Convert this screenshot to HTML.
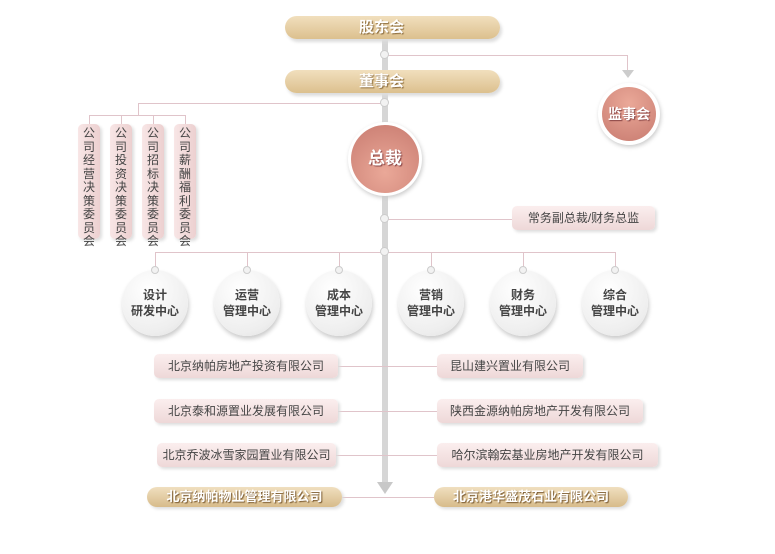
<!DOCTYPE html>
<html><head><meta charset="utf-8"><style>
body{margin:0;width:775px;height:554px;background:#fff;position:relative;overflow:hidden;font-family:"Liberation Sans","Noto Sans CJK SC",sans-serif;}
div{position:absolute;box-sizing:border-box}
.pill{height:23px;border-radius:12px;background:linear-gradient(#f1dfbd,#dcc08e);box-shadow:2px 3px 3px #ddd;color:#fff;font-size:15px;text-align:center;line-height:23px;text-shadow:1px 1px 1px #8a6a3a;font-weight:bold;padding-right:22px}
.vbox{width:22px;height:115px;border-radius:5px;background:linear-gradient(90deg,#f8e6e6,#ecd0d0);box-shadow:2px 2px 3px #ddd;font-size:12px;color:#444;line-height:13.5px;text-align:center;padding-top:3px}
.ln{background:#e0c4ca}
.gl{background:#d6d6d6}
.dot{width:9px;height:9px;border-radius:50%;background:#f2f2f2;border:1px solid #ccc}
.c{width:66px;height:66px;border-radius:50%;background:radial-gradient(circle at 40% 30%,#fff,#eee 70%,#ddd);box-shadow:1px 3px 4px #ccc;text-align:center;font-size:12px;color:#444;font-weight:bold;line-height:16px;padding-top:17px}
.box{height:24px;border-radius:5px;background:linear-gradient(#fbeeee,#eed8d8);box-shadow:2px 2px 3px #ddd;font-size:12px;color:#444;line-height:24px;text-align:center}
.gold{height:20px;border-radius:10px;background:linear-gradient(#f0dfbf,#d7bb8a);box-shadow:2px 2px 3px #ddd;font-size:13px;color:#fff;line-height:20px;text-align:center;text-shadow:1px 1px 1px #7a5a30;font-weight:bold}
</style></head><body>
<div class="gl" style="left:382px;top:38px;width:6px;height:447px"></div>
<div style="left:377px;top:482px;width:0;height:0;border-left:8px solid transparent;border-right:8px solid transparent;border-top:12px solid #c8c8c8"></div>
<div class="pill" style="left:285px;top:16px;width:215px">股东会</div>
<div class="pill" style="left:285px;top:70px;width:215px">董事会</div>
<div class="ln" style="left:385px;top:55px;width:243px;height:1px"></div>
<div class="ln" style="left:627px;top:55px;width:1px;height:16px"></div>
<div style="left:622px;top:70px;border-left:6px solid transparent;border-right:6px solid transparent;border-top:8px solid #ccc"></div>
<div style="left:598px;top:83px;width:62px;height:62px;border-radius:50%;background:#fff;box-shadow:1px 2px 4px #ccc"></div>
<div style="left:602px;top:87px;width:54px;height:54px;border-radius:50%;background:radial-gradient(circle at 50% 30%,#eaa898,#c87b70);color:#fff;font-size:14px;font-weight:bold;text-align:center;line-height:54px;text-shadow:1px 1px 1px #844">监事会</div>
<div class="ln" style="left:138px;top:103px;width:247px;height:1px"></div>
<div class="ln" style="left:138px;top:103px;width:1px;height:12px"></div>
<div class="ln" style="left:89px;top:115px;width:97px;height:1px"></div>
<div class="ln" style="left:89px;top:115px;width:1px;height:9px"></div>
<div class="ln" style="left:121px;top:115px;width:1px;height:9px"></div>
<div class="ln" style="left:153px;top:115px;width:1px;height:9px"></div>
<div class="ln" style="left:185px;top:115px;width:1px;height:9px"></div>
<div class="vbox" style="left:78px;top:124px">公司经营决策委员会</div>
<div class="vbox" style="left:110px;top:124px">公司投资决策委员会</div>
<div class="vbox" style="left:142px;top:124px">公司招标决策委员会</div>
<div class="vbox" style="left:174px;top:124px">公司薪酬福利委员会</div>
<div style="left:348px;top:122px;width:74px;height:74px;border-radius:50%;background:#fff;box-shadow:1px 2px 4px #ccc"></div>
<div style="left:351px;top:125px;width:68px;height:68px;border-radius:50%;background:radial-gradient(circle at 50% 70%,#eaa898,#c87b70);color:#fff;font-size:17px;font-weight:bold;text-align:center;line-height:68px;text-shadow:1px 1px 1px #844">总裁</div>
<div class="ln" style="left:385px;top:219px;width:127px;height:1px"></div>
<div class="box" style="left:512px;top:206px;width:143px">常务副总裁/财务总监</div>
<div class="ln" style="left:155px;top:252px;width:460px;height:1px"></div>
<div class="ln" style="left:155px;top:252px;width:1px;height:16px"></div>
<div class="ln" style="left:247px;top:252px;width:1px;height:16px"></div>
<div class="ln" style="left:339px;top:252px;width:1px;height:16px"></div>
<div class="ln" style="left:431px;top:252px;width:1px;height:16px"></div>
<div class="ln" style="left:523px;top:252px;width:1px;height:16px"></div>
<div class="ln" style="left:615px;top:252px;width:1px;height:16px"></div>
<div class="c" style="left:122px;top:270px">设计<br>研发中心</div>
<div class="c" style="left:214px;top:270px">运营<br>管理中心</div>
<div class="c" style="left:306px;top:270px">成本<br>管理中心</div>
<div class="c" style="left:398px;top:270px">营销<br>管理中心</div>
<div class="c" style="left:490px;top:270px">财务<br>管理中心</div>
<div class="c" style="left:582px;top:270px">综合<br>管理中心</div>
<div class="dot" style="left:380px;top:50px"></div>
<div class="dot" style="left:380px;top:98px"></div>
<div class="dot" style="left:380px;top:214px"></div>
<div class="dot" style="left:380px;top:247px"></div>
<div class="dot" style="left:151px;top:266px;width:8px;height:8px"></div>
<div class="dot" style="left:243px;top:266px;width:8px;height:8px"></div>
<div class="dot" style="left:335px;top:266px;width:8px;height:8px"></div>
<div class="dot" style="left:427px;top:266px;width:8px;height:8px"></div>
<div class="dot" style="left:519px;top:266px;width:8px;height:8px"></div>
<div class="dot" style="left:611px;top:266px;width:8px;height:8px"></div>
<div class="ln" style="left:338px;top:366px;width:99px;height:1px"></div>
<div class="ln" style="left:338px;top:411px;width:99px;height:1px"></div>
<div class="ln" style="left:336px;top:455px;width:101px;height:1px"></div>
<div class="ln" style="left:342px;top:497px;width:92px;height:1px"></div>
<div class="box" style="left:154px;top:354px;width:184px">北京纳帕房地产投资有限公司</div>
<div class="box" style="left:154px;top:399px;width:184px">北京泰和源置业发展有限公司</div>
<div class="box" style="left:157px;top:443px;width:179px">北京乔波冰雪家园置业有限公司</div>
<div class="gold" style="left:147px;top:487px;width:195px">北京纳帕物业管理有限公司</div>
<div class="box" style="left:437px;top:354px;width:146px">昆山建兴置业有限公司</div>
<div class="box" style="left:437px;top:399px;width:206px">陕西金源纳帕房地产开发有限公司</div>
<div class="box" style="left:437px;top:443px;width:221px">哈尔滨翰宏基业房地产开发有限公司</div>
<div class="gold" style="left:434px;top:487px;width:194px">北京港华盛茂石业有限公司</div>
</body></html>
